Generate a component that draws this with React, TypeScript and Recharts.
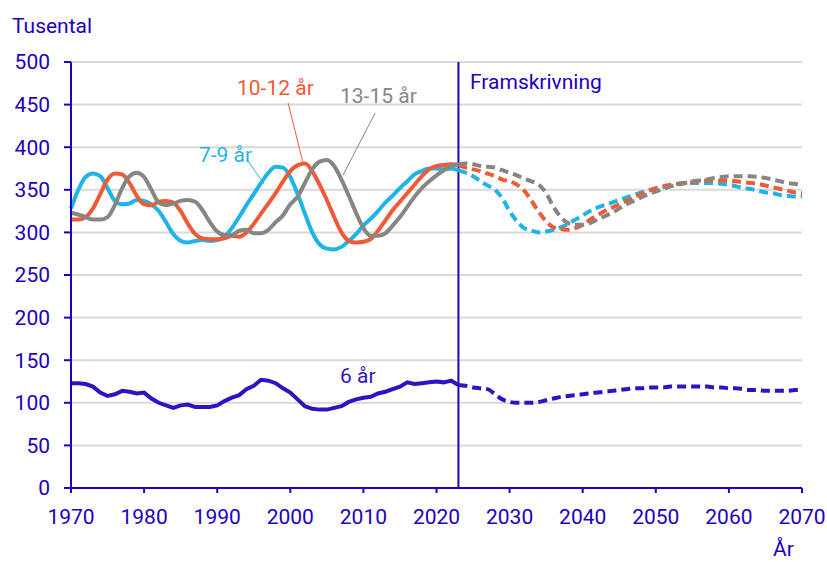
import React from 'react';
import { LineChart, Line, XAxis, YAxis, CartesianGrid, ReferenceLine } from 'recharts';

// Antal barn per åldersgrupp, tusental. Utfall 1970–2023, framskrivning 2023–2070.
const histStart = 1970;
const projStart = 2023;

const hist6 = [123, 123, 122, 119, 112, 108, 110, 114, 113, 111, 112, 105, 100, 97, 94, 97, 98, 95, 95, 95,
  97, 102, 106, 109, 116, 120, 127, 126, 123, 117, 112, 104, 96, 93, 92, 92, 94, 96, 101, 104,
  106, 107, 111, 113, 116, 119, 124, 122, 123, 124, 125, 124, 126, 121];
const hist7 = [328, 350, 365, 369, 366, 352, 337, 333, 334, 338, 337, 333, 325, 312, 298, 290, 288, 290, 291, 290,
  291, 295, 305, 318, 332, 345, 358, 370, 377, 376, 365, 345, 322, 300, 286, 281, 280, 283, 290, 298,
  308, 316, 325, 335, 343, 352, 360, 368, 372, 375, 375, 374, 375, 373];
const hist10 = [315, 315, 318, 328, 345, 362, 369, 368, 358, 343, 333, 332, 336, 337, 335, 325, 310, 298, 293, 292,
  292, 293, 296, 295, 300, 310, 322, 334, 346, 360, 372, 379, 381, 372, 356, 338, 318, 300, 290, 288,
  289, 292, 302, 314, 326, 336, 346, 356, 366, 374, 378, 379, 380, 379];
const hist13 = [323, 321, 318, 315, 315, 318, 332, 352, 366, 370, 365, 350, 335, 332, 334, 337, 338, 336, 326, 312,
  301, 297, 297, 302, 303, 299, 299, 303, 312, 320, 333, 342, 358, 374, 383, 385, 378, 362, 343, 323,
  305, 296, 296, 299, 308, 318, 330, 342, 352, 360, 367, 373, 378, 380];

const proj6 = [121, 120, 118, 117, 116, 110, 104, 101, 100, 100, 100, 101, 103, 105, 107, 108, 109, 110, 111, 112,
  113, 114, 115, 116, 117, 117, 118, 118, 118, 119, 119, 119, 119, 119, 119, 118, 118, 117, 117, 116,
  115, 115, 114, 114, 114, 114, 115, 115];
const proj7 = [373, 370, 366, 360, 355, 350, 340, 325, 313, 305, 302, 300, 301, 303, 306, 310, 315, 320, 325, 329,
  332, 335, 338, 341, 344, 347, 349, 351, 353, 355, 357, 358, 358, 358, 358, 358, 357, 356, 354, 352,
  351, 349, 347, 346, 344, 343, 342, 342];
const proj10 = [379, 376, 374, 372, 369, 366, 362, 360, 356, 349, 337, 324, 313, 306, 304, 303, 305, 309, 315, 320,
  325, 329, 333, 337, 341, 345, 349, 352, 354, 356, 357, 358, 359, 360, 361, 361, 361, 361, 360, 359,
  358, 357, 355, 353, 351, 349, 347, 346];
const proj13 = [380, 381, 380, 378, 377, 376, 373, 370, 367, 363, 360, 356, 346, 330, 318, 311, 309, 309, 311, 315,
  319, 323, 328, 333, 337, 341, 345, 348, 351, 354, 356, 358, 360, 361, 362, 364, 365, 366, 366, 366,
  366, 365, 364, 362, 360, 358, 357, 355];

const xTicks = [1970, 1980, 1990, 2000, 2010, 2020, 2030, 2040, 2050, 2060, 2070];
const yTicks = [0, 50, 100, 150, 200, 250, 300, 350, 400, 450, 500];

const AXIS = '#1e00be';
const C6 = '#2d14c3';
const C7 = '#1eb4e8';
const C10 = '#f05a37';
const C13 = '#878681';

const rows: any[] = [];
for (let y = histStart; y <= 2070; y++) {
  const h = y - histStart;
  const p = y - projStart;
  rows.push({
    year: y,
    h6: h < hist6.length ? hist6[h] : null,
    h7: h < hist7.length ? hist7[h] : null,
    h10: h < hist10.length ? hist10[h] : null,
    h13: h < hist13.length ? hist13[h] : null,
    p6: p >= 0 ? proj6[p] : null,
    p7: p >= 0 ? proj7[p] : null,
    p10: p >= 0 ? proj10[p] : null,
    p13: p >= 0 ? proj13[p] : null,
  });
}

const font = 'Roboto, "Liberation Sans", sans-serif';
const tickStyle = { fill: AXIS, fontSize: 21, fontFamily: font };

const label = (text: string, left: number, top: number, color: string) => (
  <div style={{ position: 'absolute', left, top, color, fontSize: 21, fontFamily: font, whiteSpace: 'nowrap', lineHeight: '22px' }}>
    {text}
  </div>
);

export default function App() {
  return (
    <div style={{ position: 'relative', width: 827, height: 562, background: '#fff', overflow: 'hidden' }}>
      <style>{'body{margin:0}'}</style>
      <LineChart width={827} height={562} data={rows} margin={{ top: 62, right: 25, left: 11, bottom: 34 }}>
        <CartesianGrid vertical={false} stroke="#d9d9d9" strokeWidth={2} />
        <XAxis dataKey="year" type="number" domain={[1970, 2070]} ticks={xTicks} height={40}
          stroke={AXIS} strokeWidth={2} tickSize={5} tick={tickStyle} tickMargin={16} interval={0} />
        <YAxis domain={[0, 500]} ticks={yTicks} width={60} stroke={AXIS} strokeWidth={2}
          tickSize={7} tick={tickStyle} tickMargin={14} interval={0} />
        <ReferenceLine x={2023} stroke={AXIS} strokeWidth={2} />
        <ReferenceLine segment={[{ x: 1994.1, y: 385 }, { x: 1996.4, y: 357 }]} stroke={C7} strokeWidth={1} />
        <ReferenceLine segment={[{ x: 1999.7, y: 452 }, { x: 2001.7, y: 383 }]} stroke={C10} strokeWidth={1} />
        <ReferenceLine segment={[{ x: 2011.6, y: 440 }, { x: 2007.2, y: 367 }]} stroke={C13} strokeWidth={1} />
        <Line type="monotone" dataKey="h7" stroke={C7} strokeWidth={4} dot={false} isAnimationActive={false} />
        <Line type="monotone" dataKey="h10" stroke={C10} strokeWidth={4} dot={false} isAnimationActive={false} />
        <Line type="monotone" dataKey="h13" stroke={C13} strokeWidth={4} dot={false} isAnimationActive={false} />
        <Line dataKey="h6" stroke={C6} strokeWidth={4} dot={false} isAnimationActive={false} />
        <Line type="monotone" dataKey="p7" stroke={C7} strokeWidth={4} strokeDasharray="9 5" dot={false} isAnimationActive={false} />
        <Line type="monotone" dataKey="p10" stroke={C10} strokeWidth={4} strokeDasharray="9 5" dot={false} isAnimationActive={false} />
        <Line type="monotone" dataKey="p13" stroke={C13} strokeWidth={4} strokeDasharray="9 5" dot={false} isAnimationActive={false} />
        <Line type="monotone" dataKey="p6" stroke={C6} strokeWidth={4} strokeDasharray="9 5" dot={false} isAnimationActive={false} />
      </LineChart>
      {label('Tusental', 12, 15, AXIS)}
      {label('År', 773, 538, AXIS)}
      {label('Framskrivning', 470, 71, AXIS)}
      {label('10-12 år', 237, 77, C10)}
      {label('13-15 år', 340, 85, C13)}
      {label('7-9 år', 199, 144, C7)}
      {label('6 år', 340, 365, C6)}
    </div>
  );
}
